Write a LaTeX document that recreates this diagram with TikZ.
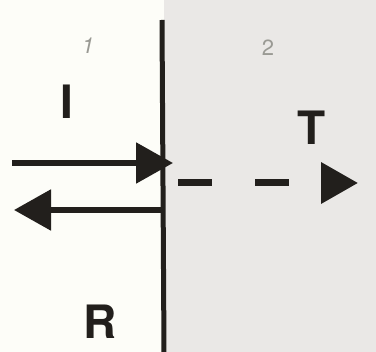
\documentclass[tikz,border=0pt]{standalone}
\usepackage{fontspec}
\setsansfont{TeX Gyre Heros}
\usetikzlibrary{arrows.meta}
\definecolor{Paper}{HTML}{FDFDF8}
\definecolor{Medium}{HTML}{EAE8E6}
\definecolor{Faint}{HTML}{9A9A94}
\definecolor{Ink}{HTML}{221F1C}

\begin{document}
\begin{tikzpicture}[x=1pt, y=-1pt, every node/.style={font=\sffamily\bfseries\fontsize{46}{46}\selectfont, text=Ink}]
  \tikzstyle{ray}=[draw=Ink, line width=5.5pt, -{Triangle[length=37pt, width=40pt]}]
  \tikzstyle{medium}=[font=\sffamily\fontsize{22}{22}\selectfont, text=Faint]

  \useasboundingbox (0,0) rectangle (376,352);
  \fill[Paper] (0,0) rectangle (376,352);
  \fill[Medium] (164,0) rectangle (376,352);
  \draw[Ink, line width=5pt] (162,20) -- (164,352);

  \node[medium, font=\sffamily\itshape\fontsize{22}{22}\selectfont] (one) at (88,46) {1};
  \node[medium] (two) at (268,48) {2};
  \node (inc) at (67,102) {I};
  \node (tra) at (312,128) {T};
  \node (ref) at (100,322) {R};

  \coordinate (isrc) at (12,163);
  \coordinate (ihit) at (173,163);
  \coordinate (tsrc) at (178,183);
  \coordinate (tend) at (358,183);
  \coordinate (rsrc) at (162,210);
  \coordinate (rend) at (14,210);

  \draw[ray] (isrc) -- (ihit);
  \draw[ray, line width=7pt, dash pattern=on 34pt off 43pt] (tsrc) -- (tend);
  \draw[ray] (rsrc) -- (rend);
\end{tikzpicture}
\end{document}
